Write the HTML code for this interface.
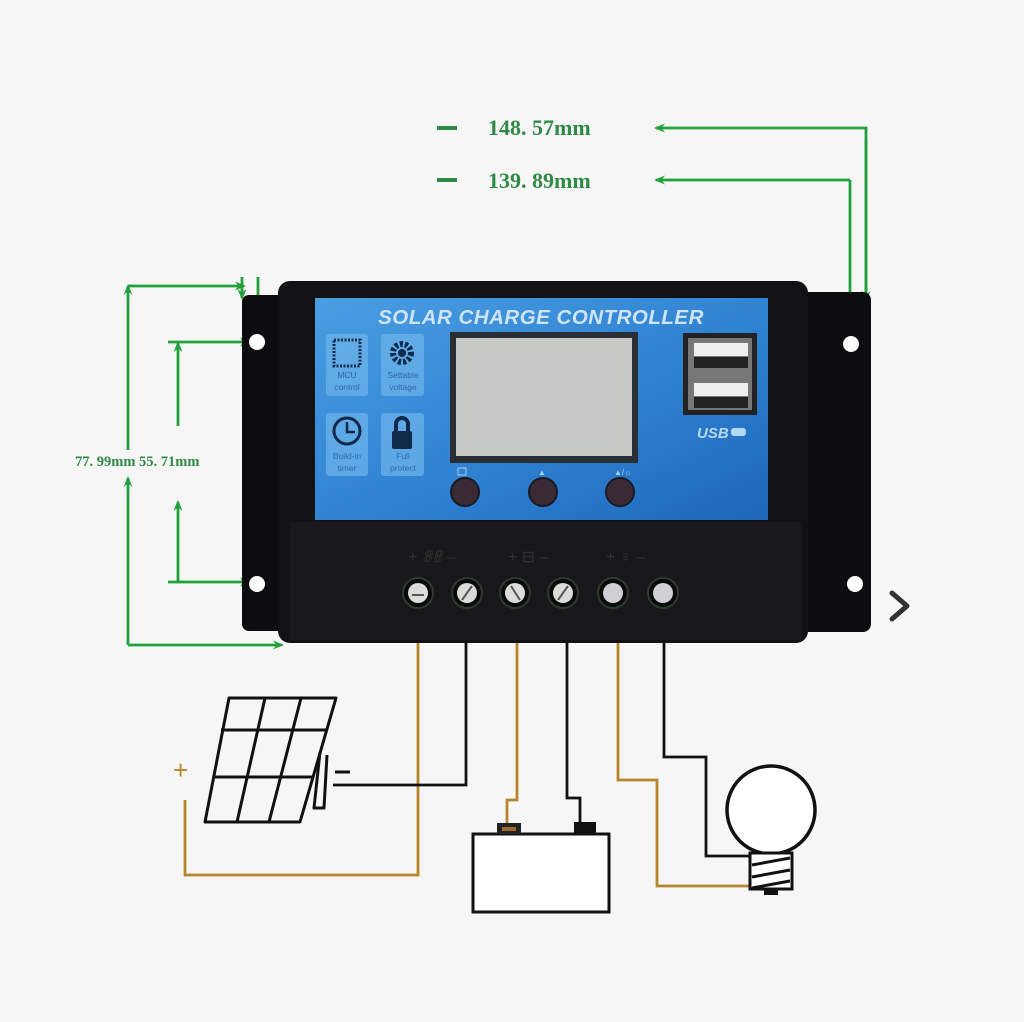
<!DOCTYPE html>
<html><head><meta charset="utf-8"><style>
html,body{margin:0;padding:0;background:#f6f6f6;}
svg{display:block;}
</style></head><body>
<svg width="1024" height="1022" viewBox="0 0 1024 1022" xmlns="http://www.w3.org/2000/svg">
<defs>
<linearGradient id="bl" x1="0" y1="0" x2="1" y2="1">
<stop offset="0" stop-color="#4a9ee2"/><stop offset="0.6" stop-color="#2d7fd0"/><stop offset="1" stop-color="#1f66b8"/>
</linearGradient>
<marker id="ah" markerWidth="12" markerHeight="12" refX="9" refY="6" orient="auto" markerUnits="userSpaceOnUse">
<path d="M0,1.5 L11,6 L0,10.5 L3.5,6 Z" fill="#22a03a"/>
</marker>
</defs>
<rect width="1024" height="1022" fill="#f6f6f6"/>

<!-- top dimensions -->
<rect x="437" y="126" width="20" height="4" fill="#2f8a45"/>
<rect x="437" y="178" width="20" height="4" fill="#2f8a45"/>
<g font-family="Liberation Serif, serif" font-size="22" fill="#2f8a45" font-weight="bold">
<text x="488" y="135">148. 57mm</text>
<text x="488" y="188">139. 89mm</text>
</g>
<g stroke="#22a03a" stroke-width="2.8" fill="none">
<path d="M866,300 L866,128 L656,128" marker-end="url(#ah)"/>
<path d="M866,140 L866,300" marker-end="url(#ah)"/>
<path d="M850,180 L656,180" marker-end="url(#ah)"/>
<path d="M850,180 L850,327" marker-end="url(#ah)"/>
<path d="M128,450 L128,286" marker-end="url(#ah)"/>
<path d="M128,286 L244,286" marker-end="url(#ah)"/>
<path d="M128,645 L128,478" marker-end="url(#ah)"/>
<path d="M128,645 L282,645" marker-end="url(#ah)"/>
<path d="M178,426 L178,343" marker-end="url(#ah)"/>
<path d="M168,342 L249,342" marker-end="url(#ah)"/>
<path d="M178,582 L178,502" marker-end="url(#ah)"/>
<path d="M168,582 L249,582" marker-end="url(#ah)"/>
<path d="M242,277 L242,298" marker-end="url(#ah)"/>
<path d="M258,277 L258,327" marker-end="url(#ah)"/>
</g>
<text x="75" y="466" font-family="Liberation Serif, serif" font-size="14.5" font-weight="bold" fill="#2f8a45">77. 99mm 55. 71mm</text>

<!-- controller -->
<rect x="242" y="295" width="50" height="336" rx="7" fill="#0d0d0f"/>
<rect x="800" y="292" width="71" height="340" rx="8" fill="#0d0d0f"/>
<rect x="278" y="281" width="530" height="362" rx="12" fill="#121214"/>
<rect x="315" y="298" width="453" height="222" fill="url(#bl)"/>
<text x="541" y="324" text-anchor="middle" font-family="Liberation Sans, sans-serif" font-weight="bold" font-style="italic" font-size="20.5" fill="#cfe4f6" letter-spacing="0.5">SOLAR CHARGE CONTROLLER</text>
<g fill="#6bb3ea" opacity="0.75">
<rect x="326" y="334" width="42" height="62" rx="3"/><rect x="381" y="334" width="43" height="62" rx="3"/>
<rect x="326" y="413" width="42" height="63" rx="3"/><rect x="381" y="413" width="43" height="63" rx="3"/>
</g>
<rect x="334" y="340" width="26" height="26" fill="none" stroke="#0f2a4a" stroke-width="3" stroke-dasharray="2 1.5"/>
<circle cx="402" cy="353" r="9" fill="none" stroke="#0f2a4a" stroke-width="6" stroke-dasharray="3 2"/>
<circle cx="402" cy="353" r="4" fill="#0f2a4a"/>
<circle cx="347" cy="431" r="13" fill="none" stroke="#0f2a4a" stroke-width="3"/>
<path d="M347,422 L347,432 L355,432" stroke="#0f2a4a" stroke-width="2.5" fill="none"/>
<path d="M396,432 L396,424 A6,6 0 0 1 408,424 L408,432" stroke="#0f2a4a" stroke-width="4" fill="none"/>
<rect x="392" y="431" width="20" height="18" rx="2" fill="#0f2a4a"/>
<g font-family="Liberation Sans, sans-serif" font-size="8.5" fill="#3068a8" text-anchor="middle">
<text x="347" y="378">MCU</text><text x="347" y="390">control</text>
<text x="403" y="378">Settable</text><text x="403" y="390">voltage</text>
<text x="347" y="459">Build-in</text><text x="347" y="471">timer</text>
<text x="403" y="459">Full</text><text x="403" y="471">protect</text>
</g>
<rect x="450" y="332" width="188" height="131" fill="#2a2f36"/>
<rect x="456" y="338" width="176" height="118" fill="#c6c9c6"/>
<circle cx="465" cy="492" r="14" fill="#3a2a35" stroke="#1a1a22" stroke-width="2"/>
<circle cx="543" cy="492" r="14" fill="#3a2a35" stroke="#1a1a22" stroke-width="2"/>
<circle cx="620" cy="492" r="14" fill="#3a2a35" stroke="#1a1a22" stroke-width="2"/>
<g fill="#a8d0f0" font-size="8" font-family="Liberation Sans, sans-serif">
<rect x="458" y="468" width="8" height="7" fill="none" stroke="#a8d0f0"/>
<text x="538" y="475">▲</text><text x="614" y="475">▲/☼</text>
</g>
<rect x="683" y="333" width="74" height="82" fill="#222"/>
<rect x="688" y="338" width="64" height="72" fill="#777"/>
<rect x="694" y="343" width="54" height="13" fill="#eee"/><rect x="694" y="357" width="54" height="11" fill="#222"/>
<rect x="694" y="383" width="54" height="13" fill="#eee"/><rect x="694" y="397" width="54" height="11" fill="#222"/>
<text x="697" y="438" font-family="Liberation Sans, sans-serif" font-weight="bold" font-style="italic" font-size="15" fill="#b5d8f5">USB</text>
<rect x="731" y="428" width="15" height="8" rx="3" fill="#b5d8f5"/>
<rect x="290" y="522" width="512" height="118" fill="#18181a"/>
<g font-family="Liberation Sans, sans-serif" fill="#333" font-size="16">
<text x="408" y="562" font-style="italic">+ 𝟠𝟠 –</text>
<text x="508" y="562">+ ⊟ –</text>
<text x="606" y="562">+ ♀ –</text>
</g>
<g stroke="#2f3a30" stroke-width="2" fill="#0a0a0a">
<circle cx="418" cy="593" r="15"/><circle cx="467" cy="593" r="15"/><circle cx="515" cy="593" r="15"/>
<circle cx="563" cy="593" r="15"/><circle cx="613" cy="593" r="15"/><circle cx="663" cy="593" r="15"/>
</g>
<g>
<circle cx="418" cy="593" r="10" fill="#dcdcd8"/><circle cx="467" cy="593" r="10" fill="#dcdcd8"/>
<circle cx="515" cy="593" r="10" fill="#dcdcd8"/><circle cx="563" cy="593" r="10" fill="#dcdcd8"/>
<circle cx="613" cy="593" r="10" fill="#cfcfd4"/><circle cx="663" cy="593" r="10" fill="#cfcfd4"/>
</g>
<g stroke="#555" stroke-width="2">
<line x1="412" y1="595" x2="424" y2="595"/><line x1="462" y1="600" x2="472" y2="586"/><line x1="511" y1="586" x2="520" y2="600"/><line x1="558" y1="600" x2="568" y2="586"/>
</g>
<g fill="#fff"><circle cx="257" cy="342" r="8"/><circle cx="257" cy="584" r="8"/><circle cx="851" cy="344" r="8"/><circle cx="855" cy="584" r="8"/></g>

<path d="M892,593 L907,606 L892,619" stroke="#333" stroke-width="5" fill="none" stroke-linecap="round" stroke-linejoin="round"/>

<g fill="none" stroke-width="2.8">
<path d="M418,643 L418,875 L185,875 L185,800" stroke="#b8862a"/>
<path d="M466,643 L466,785 L333,785" stroke="#111"/>
<path d="M517,643 L517,800 L507,800 L507,825" stroke="#b8862a"/>
<path d="M567,643 L567,798 L580,798 L580,825" stroke="#111"/>
<path d="M618,643 L618,780 L657,780 L657,886 L750,886" stroke="#b8862a"/>
<path d="M664,643 L664,757 L706,757 L706,856 L750,856" stroke="#111"/>
</g>
<text x="173" y="779" font-family="Liberation Sans, sans-serif" font-size="26" fill="#b8862a">+</text>
<line x1="335" y1="772" x2="350" y2="772" stroke="#111" stroke-width="3"/>
<g stroke="#111" stroke-width="3" fill="none" stroke-linejoin="round">
<path d="M229,698 L336,698 L300,822 L205,822 Z"/>
<line x1="221" y1="730" x2="327" y2="730"/><line x1="213" y1="777" x2="314" y2="777"/>
<line x1="265" y1="698" x2="237" y2="822"/><line x1="301" y1="698" x2="269" y2="822"/>
<path d="M320,752 L314,808 L324,808 L327,755"/>
</g>
<rect x="473" y="834" width="136" height="78" fill="#fff" stroke="#111" stroke-width="3"/>
<rect x="497" y="823" width="24" height="11" fill="#222"/><rect x="502" y="827" width="14" height="4" fill="#a0682a"/>
<rect x="574" y="822" width="22" height="12" fill="#111"/>
<circle cx="771" cy="810" r="44" fill="#fff" stroke="#111" stroke-width="3.5"/>
<rect x="750" y="853" width="42" height="36" fill="#fff" stroke="#111" stroke-width="3"/>
<g stroke="#111" stroke-width="3"><line x1="752" y1="865" x2="790" y2="858"/><line x1="752" y1="877" x2="790" y2="870"/><line x1="752" y1="888" x2="790" y2="881"/></g>
<rect x="764" y="889" width="14" height="6" fill="#111"/>
</svg>
</body></html>
